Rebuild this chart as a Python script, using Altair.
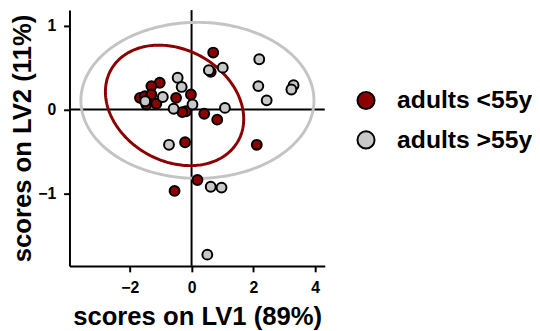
import altair as alt
import numpy as np
import pandas as pd

# ---- data ----
young_x = [0.70, -1.03, -1.30, -1.67, -1.51, -1.35, -1.46, -1.30, -1.14, -0.50,
           -0.02, -0.18, 0.41, 0.83, 0.62, -0.21, 2.11, 0.19, -0.55, -0.30]
young_y = [0.68, 0.32, 0.28, 0.14, 0.16, 0.11, 0.06, 0.18, 0.07, 0.14,
           0.18, -0.02, -0.05, -0.12, 0.45, -0.39, -0.42, -0.84, -0.97, -0.03]
old_x = [2.19, 1.01, 0.56, -0.45, -0.32, 2.16, 3.30, 3.23, 2.43, -0.93,
         0.03, -0.58, 1.08, -0.73, 0.62, 0.97, 0.51, -1.50]
old_y = [0.60, 0.50, 0.47, 0.38, 0.27, 0.28, 0.29, 0.24, 0.11, 0.15,
         0.06, 0.01, 0.02, -0.42, -0.92, -0.93, -1.73, 0.10]
groups = ["adults <55y", "adults >55y"]
colors = ["#8B0000", "#C8C8C8"]

# confidence ellipses: centre, and cos/sin coefficients for x and y
ell_groups = ["adults <55y", "adults >55y"]
ell_cx = [-0.55, 0.19]
ell_cy = [0.05, 0.11]
ell_xc = [2.056, 3.77]
ell_xs = [-0.882, 0.0]
ell_yc = [-0.425, 0.0]
ell_ys = [-0.579, 0.93]
ell_colors = ["#8B0000", "#C4C4C4"]

x_ticks = [-2, 0, 2, 4]
y_ticks = [-1, 0, 1]
x_domain = [-3.95, 4.31]
y_domain = [-1.864, 1.186]

# ---- tables ----
pts = pd.DataFrame({
    "x": young_x + old_x,
    "y": young_y + old_y,
    "group": [groups[0]] * len(young_x) + [groups[1]] * len(old_x),
})
pts["i"] = range(len(pts))

t = np.linspace(0, 2 * np.pi, 241)
rows = []
for g, cx, cy, xc, xs, yc, ys, col in zip(ell_groups, ell_cx, ell_cy, ell_xc, ell_xs,
                                          ell_yc, ell_ys, ell_colors):
    for k, tt in enumerate(t):
        rows.append({"eg": g, "k": k, "col": col,
                     "ex": cx + xc * np.cos(tt) + xs * np.sin(tt),
                     "ey": cy + yc * np.cos(tt) + ys * np.sin(tt)})
ell = pd.DataFrame(rows)

FONT = "Liberation Sans"
xscale = alt.Scale(domain=x_domain, nice=False, zero=False)
yscale = alt.Scale(domain=y_domain, nice=False, zero=False)

xaxis = alt.Axis(values=x_ticks, title="scores on LV1 (89%)", grid=False,
                 titleFontSize=26, titleFont=FONT, titleFontWeight="bold",
                 titleY=59, titleBaseline="alphabetic", titleColor="black",
                 labelFontSize=16, labelFont=FONT, labelFontWeight="bold",
                 labelColor="black", labelPadding=8)
yaxis = alt.Axis(values=y_ticks, title="scores on LV2 (11%)", grid=False,
                 titleFontSize=26, titleFont=FONT, titleFontWeight="bold",
                 titleX=-39, titleBaseline="alphabetic", titleColor="black",
                 labelFontSize=16, labelFont=FONT, labelFontWeight="bold",
                 labelColor="black", labelPadding=8)

vline = alt.Chart(pd.DataFrame({"v": [0]})).mark_rule(color="black", strokeWidth=2).encode(
    x=alt.X("v:Q", scale=xscale, axis=xaxis))
hline = alt.Chart(pd.DataFrame({"h": [0]})).mark_rule(color="black", strokeWidth=2).encode(
    y=alt.Y("h:Q", scale=yscale, axis=yaxis))

ellipses = alt.Chart(ell).mark_line(strokeWidth=3).encode(
    x=alt.X("ex:Q", scale=xscale, axis=xaxis),
    y=alt.Y("ey:Q", scale=yscale, axis=yaxis),
    detail="eg:N",
    order="k:Q",
    stroke=alt.Stroke("col:N", scale=None),
)

points = alt.Chart(pts).mark_circle(size=100, stroke="black", strokeWidth=2, opacity=1).encode(
    x=alt.X("x:Q", scale=xscale, axis=xaxis),
    y=alt.Y("y:Q", scale=yscale, axis=yaxis),
    order="i:Q",
    fill=alt.Fill("group:N", scale=alt.Scale(domain=groups, range=colors),
                  legend=alt.Legend(title=None, orient="none", legendX=288, legendY=79,
                                    symbolSize=300, symbolType="circle",
                                    symbolStrokeColor="black", symbolStrokeWidth=2,
                                    symbolOpacity=1, labelFontSize=25, labelFont=FONT,
                                    labelFontWeight="bold", labelColor="black",
                                    labelOffset=19, rowPadding=13, padding=0)),
)

chart = alt.layer(vline, hline, ellipses, points).properties(
    width=258.7, height=259.2,
    autosize=alt.AutoSizeParams(type="none"),
    padding={"left": 62.3, "top": 0, "right": 210, "bottom": 64},
).configure_view(stroke=None).configure_axis(
    domainColor="black", domainWidth=2, tickColor="black", tickWidth=2, tickSize=6,
)

chart.save("out.html", embed_options={"renderer": "svg", "actions": False})
